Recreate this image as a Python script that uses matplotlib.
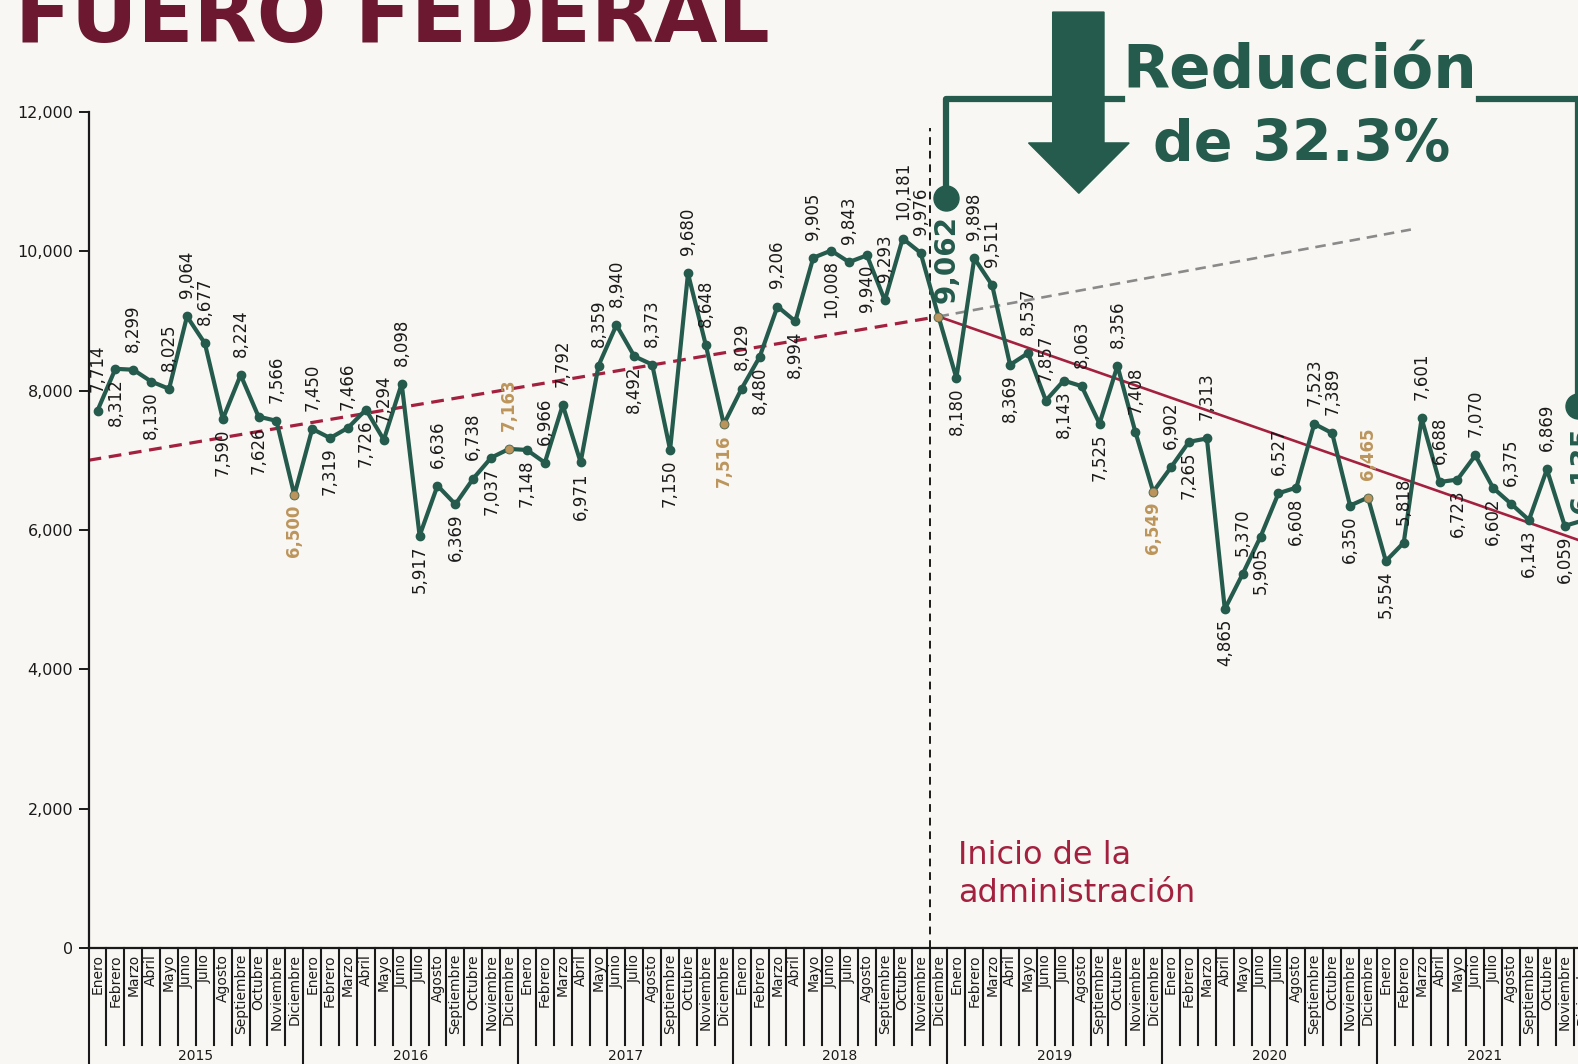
import matplotlib.pyplot as plt
import matplotlib.patches as mpatches
from matplotlib.transforms import Affine2D, blended_transform_factory

W, H = 1578, 1064
# medidas tomadas sobre la vista reducida de la referencia
VW, VH = 1568, 1057

meses = ['Enero', 'Febrero', 'Marzo', 'Abril', 'Mayo', 'Junio', 'Julio',
         'Agosto', 'Septiembre', 'Octubre', 'Noviembre', 'Diciembre']
anios = ['2015', '2016', '2017', '2018', '2019', '2020', '2021']

# valores mensuales, enero 2015 - diciembre 2021
valores = [
    7714, 8312, 8299, 8130, 8025, 9064, 8677, 7590, 8224, 7626, 7566, 6500,
    7450, 7319, 7466, 7726, 7294, 8098, 5917, 6636, 6369, 6738, 7037, 7163,
    7148, 6966, 7792, 6971, 8359, 8940, 8492, 8373, 7150, 9680, 8648, 7516,
    8029, 8480, 9206, 8994, 9905, 10008, 9843, 9940, 9293, 10181, 9976, 9062,
    8180, 9898, 9511, 8369, 8537, 7857, 8143, 8063, 7525, 8356, 7408, 6549,
    6902, 7265, 7313, 4865, 5370, 5905, 6527, 6608, 7523, 7389, 6350, 6465,
    5554, 5818, 7601, 6688, 6723, 7070, 6602, 6375, 6143, 6869, 6059, 6135,
]

# posicion de la etiqueta: a = arriba, b = abajo, g = destacada
posiciones = (
    list('ababaaababab') +
    list('ababaababab' + 'a') +
    list('baabaababaab') +
    list('ababababaaa' + 'g') +
    list('baabaababaab') +
    list('ababababaaba') +
    list('baaababababa')[:11] + ['g']
)

# lineas de tendencia (extremos)
tend_antes_x = [0, 47.5]
tend_antes_y = [7000, 9062]
tend_despues_x = [47.5, 84]
tend_despues_y = [9062, 5790]
proy_x = [47.5, 73.9]
proy_y = [9062, 10310]

VERDE = '#245B4C'
ROJO = '#A3213F'
GUINDA = '#6B1830'
DORADO = '#BC955C'
FONDO = '#F9F7F3'
NEGRO = '#1A1A1A'

plt.rcParams['font.family'] = ['DejaVu Sans']

fig = plt.figure(figsize=(W / 100, H / 100), dpi=100, facecolor=FONDO)
px = Affine2D().scale(1 / VW, -1 / VH).translate(0, 1) + fig.transFigure

ax = fig.add_axes([88 / VW, 1 - 942 / VH, 84 * 17.78 / VW, (942 - 111) / VH])
ax.set_facecolor('none')
ax.set_xlim(0, 84)
ax.set_ylim(0, 12000)

x = [i + 0.5 for i in range(len(valores))]

ax.plot(tend_antes_x, tend_antes_y, color=ROJO, lw=2.3, dashes=(4, 2.4), zorder=2)
ax.plot(proy_x, proy_y, color='#8A8A8A', lw=1.9, dashes=(4, 2.6), zorder=2)
ax.plot(tend_despues_x, tend_despues_y, color=ROJO, lw=1.9, zorder=2)
ax.axvline(47, ymin=0, ymax=11770 / 12000, color=NEGRO, lw=1.4, dashes=(4, 3), zorder=1)

ax.plot(x, valores, color=VERDE, lw=3, marker='o', ms=6, zorder=3)
dic = [i for i in range(len(valores)) if i % 12 == 11]
ax.plot([x[i] for i in dic], [valores[i] for i in dic], ls='none', marker='o',
        ms=6, color=DORADO, mec='#7a7a5a', mew=0.5, zorder=4)

for i, (xi, v, p) in enumerate(zip(x, valores, posiciones)):
    txt = f'{v:,}'
    if p == 'g':
        dx = 6 if i < 60 else 0
        dy = 10 if i < 60 else 5
        ax.annotate(txt, (xi, v), xytext=(dx, dy), textcoords='offset points',
                    rotation=90, ha='center', va='bottom', fontsize=20,
                    fontweight='bold', color=VERDE, zorder=5, annotation_clip=False)
        continue
    es_dic = i % 12 == 11
    color = DORADO if es_dic else NEGRO
    peso = 'bold' if es_dic else 'normal'
    if p == 'a':
        ax.annotate(txt, (xi, v), xytext=(0, 13), textcoords='offset points',
                    rotation=90, ha='center', va='bottom', fontsize=12,
                    color=color, fontweight=peso, zorder=5)
    else:
        ax.annotate(txt, (xi, v), xytext=(0, -7), textcoords='offset points',
                    rotation=90, ha='center', va='top', fontsize=12,
                    color=color, fontweight=peso, zorder=5)

# ejes
for s in ['top', 'right']:
    ax.spines[s].set_visible(False)
for s in ['left', 'bottom']:
    ax.spines[s].set_color(NEGRO)
    ax.spines[s].set_linewidth(1.6)
ax.set_xticks([])
ax.set_yticks(range(0, 12001, 2000))
ax.set_yticklabels([f'{t:,}' for t in range(0, 12001, 2000)], fontsize=11.5, color=NEGRO)
ax.tick_params(axis='y', length=7, width=1.4, pad=4, color=NEGRO)

# etiquetas de meses y anios
bt = blended_transform_factory(ax.transData, ax.transAxes)
for k in range(len(valores) + 1):
    largo = -0.16 if k % 12 == 0 else -0.1155
    ax.plot([k, k], [0, largo], transform=bt, clip_on=False, color=NEGRO, lw=1.5)
for k in range(len(valores)):
    ax.text(k + 0.5, -0.007, meses[k % 12], transform=bt, rotation=90,
            ha='center', va='top', fontsize=10, color=NEGRO)
for j, a in enumerate(anios):
    ax.text(j * 12 + 6, -0.129, a, transform=bt, ha='center', va='center',
            fontsize=10, color=NEGRO)

# textos y decoraciones
fig.text(15, 42, 'FUERO FEDERAL', transform=px, fontsize=59, fontweight='bold',
         color=GUINDA, ha='left', va='baseline')
fig.text(1292, 87, 'Reducción', transform=px, fontsize=44, fontweight='bold',
         color=VERDE, ha='center', va='baseline')
fig.text(1293, 160, 'de 32.3%', transform=px, fontsize=41, fontweight='bold',
         color=VERDE, ha='center', va='baseline')
fig.text(952, 834, 'Inicio de la\nadministración', transform=px, fontsize=23,
         color=ROJO, ha='left', va='top', linespacing=1.3)

flecha = mpatches.Polygon([(1046, 12), (1097, 12), (1097, 142), (1122, 142),
                           (1072, 192), (1022, 142), (1046, 142)],
                          closed=True, transform=px, color=VERDE)
fig.patches.append(flecha)
fig.lines.append(plt.Line2D([940, 940, 1115], [197, 98, 98], transform=px,
                            color=VERDE, lw=4.5))
fig.lines.append(plt.Line2D([1470, 1568, 1568], [98, 98, 403], transform=px,
                            color=VERDE, lw=4.5))
fig.lines.append(plt.Line2D([940, 1568], [197, 403], transform=px, ls='none',
                            marker='o', ms=18, color=VERDE))

fig.savefig('out.png', dpi=100, facecolor=FONDO)
